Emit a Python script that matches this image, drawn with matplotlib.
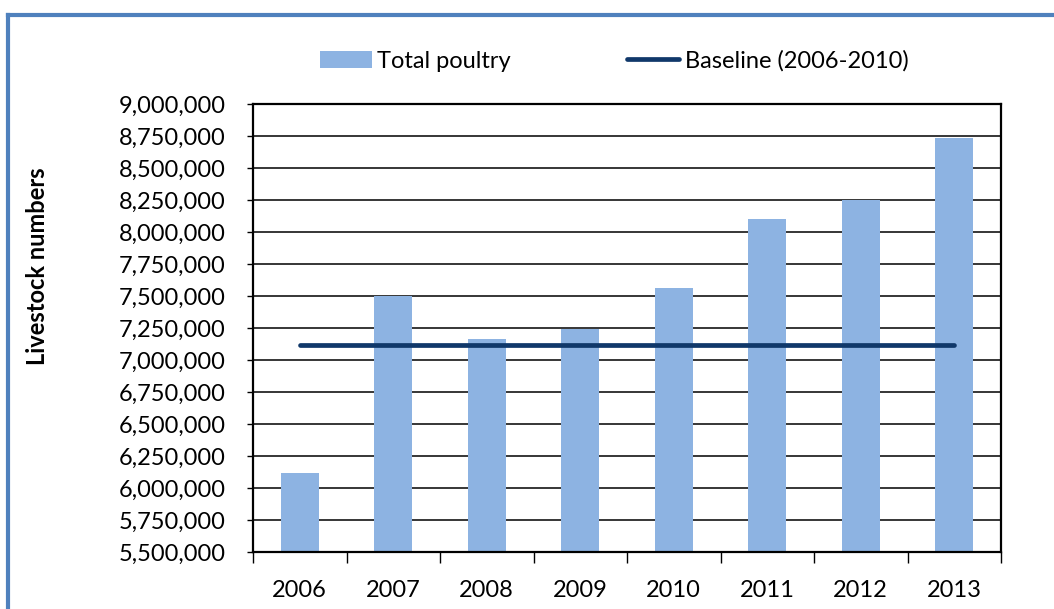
"""
Total poultry livestock numbers per year against the 2006-2010 baseline.
"""

from matplotlib import pyplot as plt
from matplotlib.lines import Line2D
from matplotlib.ticker import FuncFormatter, MultipleLocator

years = ["2006", "2007", "2008", "2009", "2010", "2011", "2012", "2013"]
total_poultry = [6117000, 7503000, 7164000, 7242000, 7563000, 8102000, 8248000, 8734000]
baseline = [7117000] * len(years)

plt.rcParams["font.family"] = ["Lato", "DejaVu Sans"]

W, H = 1054, 609
fig = plt.figure(figsize=(W / 100, H / 100), dpi=100)

# plot area in pixels: left 253, right 1001, top 104, bottom 552
ax = fig.add_axes([253 / W, 1 - 552 / H, (1001 - 253) / W, (552 - 104) / H])

x = list(range(len(years)))
bars = ax.bar(x, total_poultry, width=0.41, color="#8DB3E2", label="Total poultry", zorder=2)
line, = ax.plot(x, baseline, color="#10386A", linewidth=3.4, solid_capstyle="round",
                label="Baseline (2006-2010)", zorder=3)

ax.set_xlim(-0.5, len(years) - 0.5)
ax.set_ylim(5500000, 9000000)
ax.yaxis.set_major_locator(MultipleLocator(250000))
ax.yaxis.set_major_formatter(FuncFormatter(lambda v, p: f"{int(v):,}"))
ax.grid(axis="y", color="black", linewidth=1.1, zorder=1)
ax.set_axisbelow(True)

# category boundary ticks on x axis, labels centred
ax.set_xticks([i - 0.5 for i in range(len(years) + 1)])
ax.set_xticklabels([])
ax.set_xticks(x, minor=True)
ax.set_xticklabels(years, minor=True)
ax.tick_params(axis="x", which="major", length=8, width=1, direction="out")
ax.tick_params(axis="x", which="minor", length=0, pad=20, labelsize=17)
ax.tick_params(axis="y", length=4, width=1, direction="out", pad=15.5, labelsize=17)

for side in ax.spines.values():
    side.set_linewidth(1.6)
    side.set_color("black")

fig.text(38 / W, 1 - 266 / H, "Livestock numbers", rotation=90, fontsize=17,
         fontweight="bold", ha="center", va="center")

ax.legend([bars, line], ["Total poultry", "Baseline (2006-2010)"], loc="center",
          bbox_to_anchor=(614 / W, 1 - 61 / H), bbox_transform=fig.transFigure,
          ncol=2, frameon=False, fontsize=17, handlelength=2.2, handleheight=0.75,
          handletextpad=0.25, columnspacing=4.9)

# outer blue frame (cut off at right and bottom)
fig.add_artist(Line2D([8 / W, 8 / W], [0, 1 - 15 / H], color="#4F81BD", linewidth=3,
                      solid_capstyle="projecting", transform=fig.transFigure))
fig.add_artist(Line2D([8 / W, 1], [1 - 15 / H, 1 - 15 / H], color="#4F81BD", linewidth=3,
                      solid_capstyle="projecting", transform=fig.transFigure))

fig.savefig("out.png", dpi=100)
